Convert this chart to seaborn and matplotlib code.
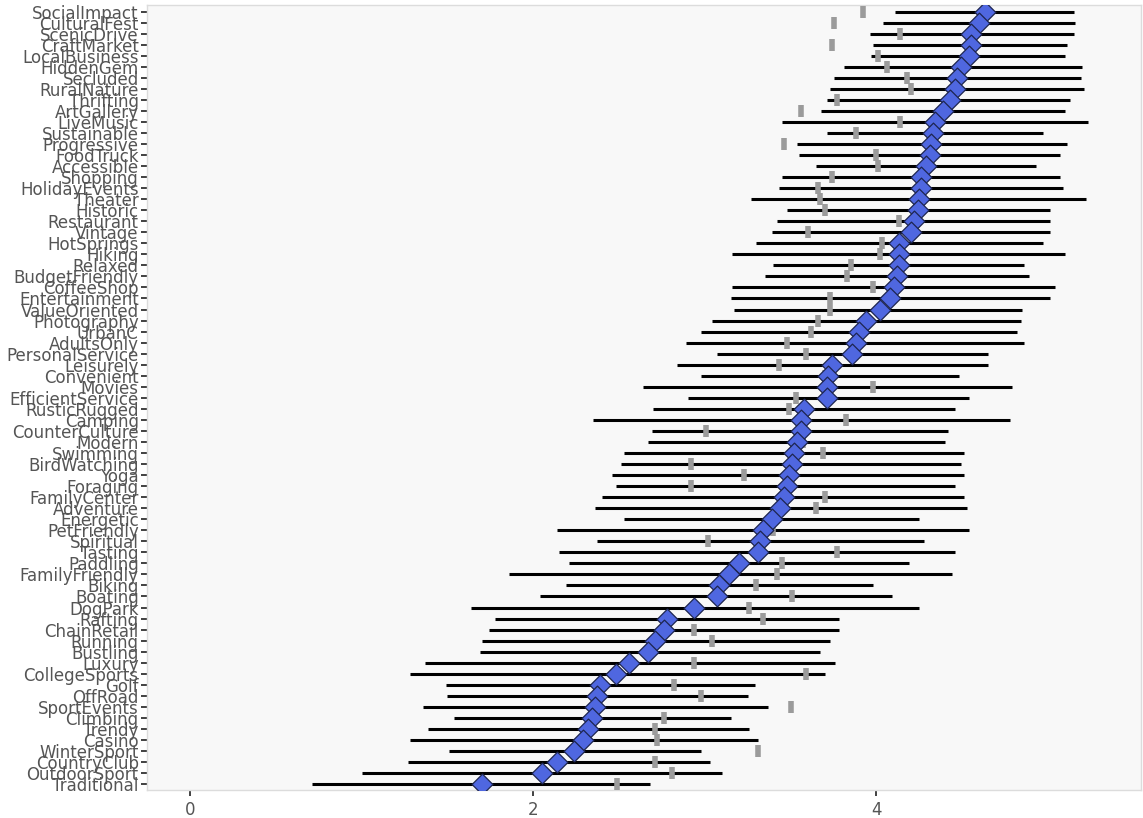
import numpy as np
import pandas as pd
import matplotlib.pyplot as plt
import seaborn as sns

# categories, top to bottom
labels = ['SocialImpact', 'CulturalFest', 'ScenicDrive', 'CraftMarket', 'LocalBusiness',
          'HiddenGem', 'Secluded', 'RuralNature', 'Thrifting', 'ArtGallery', 'LiveMusic',
          'Sustainable', 'Progressive', 'FoodTruck', 'Accessible', 'Shopping',
          'HolidayEvents', 'Theater', 'Historic', 'Restaurant', 'Vintage', 'HotSprings',
          'Hiking', 'Relaxed', 'BudgetFriendly', 'CoffeeShop', 'Entertainment',
          'ValueOriented', 'Photography', 'UrbanC', 'AdultsOnly', 'PersonalService',
          'Leisurely', 'Convenient', 'Movies', 'EfficientService', 'RusticRugged',
          'Camping', 'CounterCulture', 'Modern', 'Swimming', 'BirdWatching', 'Yoga',
          'Foraging', 'FamilyCenter', 'Adventure', 'Energetic', 'PetFriendly',
          'Spiritual', 'Tasting', 'Paddling', 'FamilyFriendly', 'Biking', 'Boating',
          'DogPark', 'Rafting', 'ChainRetail', 'Running', 'Bustling', 'Luxury',
          'CollegeSports', 'Golf', 'OffRoad', 'SportEvents', 'Climbing', 'Trendy',
          'Casino', 'WinterSport', 'CountryClub', 'OutdoorSport', 'Traditional']

# diamond (estimate)
means = [4.63, 4.60, 4.55, 4.55, 4.54, 4.49, 4.47, 4.46, 4.43, 4.39, 4.34,
         4.33, 4.32, 4.31, 4.29, 4.26, 4.26, 4.25, 4.24, 4.22, 4.20, 4.13,
         4.13, 4.13, 4.12, 4.10, 4.08, 4.02, 3.94, 3.90, 3.88, 3.86,
         3.74, 3.72, 3.71, 3.71, 3.58, 3.56, 3.56, 3.54, 3.52, 3.51, 3.49,
         3.48, 3.46, 3.44, 3.39, 3.34, 3.32, 3.31, 3.20, 3.14, 3.08, 3.07,
         2.94, 2.78, 2.76, 2.71, 2.67, 2.56, 2.48, 2.39, 2.37, 2.36, 2.34,
         2.32, 2.29, 2.24, 2.14, 2.05, 1.70]

# interval ends
lower = [4.11, 4.04, 3.96, 3.98, 3.97, 3.81, 3.75, 3.73, 3.71, 3.68, 3.45,
         3.71, 3.54, 3.55, 3.65, 3.45, 3.43, 3.27, 3.48, 3.42, 3.39, 3.30,
         3.16, 3.40, 3.35, 3.16, 3.15, 3.17, 3.04, 2.98, 2.89, 3.07,
         2.84, 2.98, 2.64, 2.90, 2.70, 2.35, 2.69, 2.67, 2.53, 2.51, 2.46,
         2.48, 2.40, 2.36, 2.53, 2.14, 2.37, 2.15, 2.21, 1.86, 2.19, 2.04,
         1.64, 1.78, 1.74, 1.70, 1.69, 1.37, 1.28, 1.49, 1.50, 1.36, 1.54,
         1.39, 1.28, 1.51, 1.27, 1.00, 0.71]
upper = [5.15, 5.16, 5.15, 5.11, 5.10, 5.20, 5.19, 5.21, 5.13, 5.10, 5.23,
         4.97, 5.11, 5.07, 4.93, 5.07, 5.09, 5.22, 5.01, 5.01, 5.01, 4.97,
         5.10, 4.86, 4.89, 5.04, 5.01, 4.85, 4.84, 4.82, 4.86, 4.65,
         4.65, 4.48, 4.79, 4.54, 4.46, 4.78, 4.42, 4.40, 4.51, 4.49, 4.51,
         4.46, 4.51, 4.53, 4.25, 4.54, 4.28, 4.46, 4.19, 4.44, 3.98, 4.09,
         4.25, 3.78, 3.78, 3.73, 3.67, 3.76, 3.70, 3.29, 3.25, 3.37, 3.15,
         3.26, 3.31, 2.98, 3.03, 3.10, 2.68]

# grey reference marks
ref = [3.92, 3.75, 4.14, 3.74, 4.01, 4.06, 4.18, 4.20, 3.77, 3.56, 4.14,
       3.88, 3.46, 4.00, 4.01, 3.74, 3.66, 3.67, 3.70, 4.13, 3.60, 4.03,
       4.02, 3.85, 3.83, 3.98, 3.73, 3.73, 3.66, 3.62, 3.48, 3.59,
       3.43, 3.70, 3.98, 3.53, 3.49, 3.82, 3.01, 3.57, 3.69, 2.92, 3.23,
       2.92, 3.70, 3.65, 3.40, 3.40, 3.02, 3.77, 3.45, 3.42, 3.30, 3.51,
       3.26, 3.34, 2.94, 3.04, 2.68, 2.94, 3.59, 2.82, 2.98, 3.50, 2.76,
       2.71, 2.72, 3.31, 2.71, 2.81, 2.49]

df = pd.DataFrame({'label': labels, 'mean': means, 'lower': lower,
                   'upper': upper, 'ref': ref})

sns.set_theme(style='white')
plt.rcParams['font.family'] = ['DejaVu Sans']

fig, ax = plt.subplots(figsize=(11.43, 8.18), dpi=100)
fig.subplots_adjust(left=0.1286, right=0.998, top=0.994, bottom=0.034)
ax.set_facecolor('#f8f8f8')

# diamonds first so seaborn sets up the categorical y axis
sns.scatterplot(data=df, x='mean', y='label', marker='D', s=112,
                color='#4f67e0', edgecolor='#1d2550', linewidth=0.9,
                zorder=4, ax=ax)
sns.scatterplot(data=df, x='ref', y='label', marker='|', s=72,
                color='#9b9b9b', linewidth=4.0, zorder=3, ax=ax)
ax.hlines(y=df['label'], xmin=df['lower'], xmax=df['upper'],
          color='black', lw=2.2, zorder=2)

ax.set_xlim(-0.25, 5.54)
ax.set_ylim(len(labels) - 0.45, -0.6)
ax.set_xticks([0, 2, 4])
ax.set_xlabel('')
ax.set_ylabel('')

for side in ['left', 'bottom', 'top', 'right']:
    ax.spines[side].set_color('#dcdcdc')
    ax.spines[side].set_linewidth(1)

ax.tick_params(axis='both', which='major', bottom=True, left=True,
               length=4, width=1.3, color='#333333',
               labelcolor='#555555', labelsize=12, pad=2)
ax.tick_params(axis='x', pad=4)

plt.savefig('out.png', dpi=100)
